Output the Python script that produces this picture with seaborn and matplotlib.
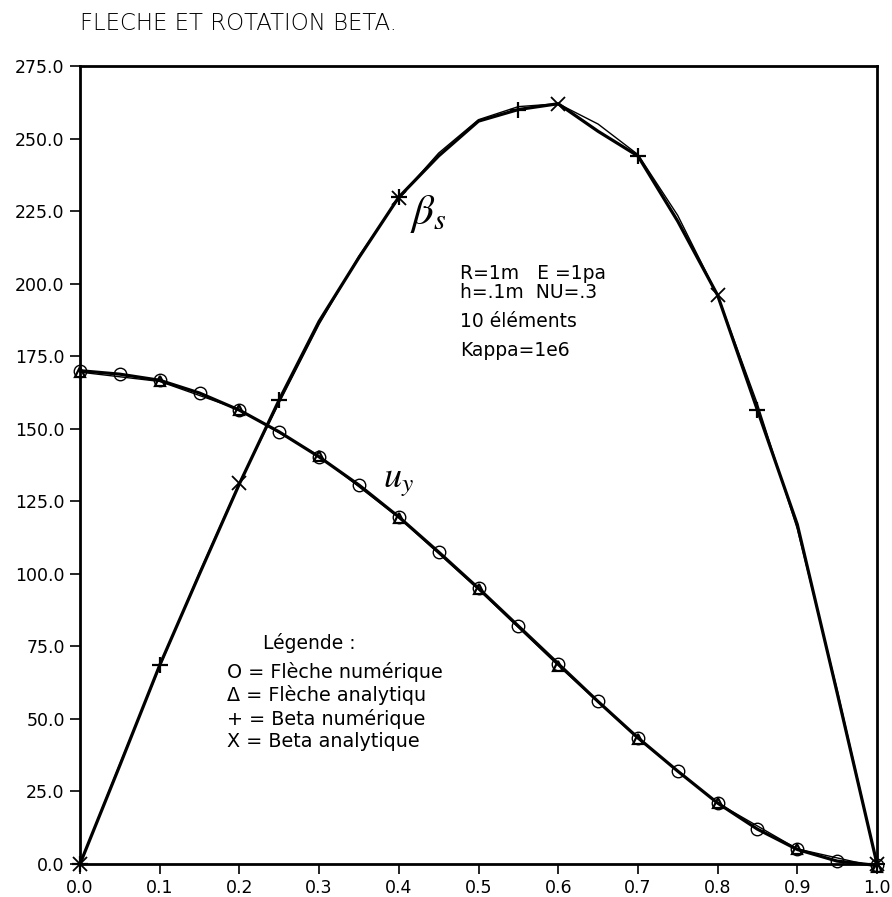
import numpy as np
import pandas as pd
import matplotlib
matplotlib.use("Agg")
import matplotlib.pyplot as plt
import seaborn as sns

# ---------------- data ----------------
x_fine = [0.0, 0.05, 0.1, 0.15, 0.2, 0.25, 0.3, 0.35, 0.4, 0.45, 0.5,
          0.55, 0.6, 0.65, 0.7, 0.75, 0.8, 0.85, 0.9, 0.95, 1.0]
x_coarse = [0.0, 0.1, 0.2, 0.3, 0.4, 0.5, 0.6, 0.7, 0.8, 0.9, 1.0]

fleche_num = [170.0, 168.8, 166.7, 162.3, 156.4, 148.9, 140.3, 130.6, 119.6, 107.5, 95.0,
              82.0, 69.0, 56.0, 43.5, 32.0, 21.0, 12.0, 5.0, 1.0, -0.5]
fleche_ana = [169.5, 166.3, 156.6, 140.6, 119.4, 94.6, 68.4, 43.2, 21.0, 5.2, -1.0]

beta_num = [0.0, 34.0, 68.5, 100.0, 131.0, 160.0, 187.0, 209.0, 229.8, 244.0, 256.0,
            260.0, 262.0, 252.5, 244.0, 221.5, 196.0, 156.4, 117.0, 59.0, 0.0]
beta_ana = [0.0, 34.5, 68.0, 100.5, 131.3, 159.0, 186.0, 209.5, 229.5, 245.0, 256.5,
            261.0, 262.0, 255.0, 244.5, 223.5, 196.0, 158.5, 115.5, 60.0, 0.0]

xticks = [0.0, 0.1, 0.2, 0.3, 0.4, 0.5, 0.6, 0.7, 0.8, 0.9, 1.0]
yticks = [0, 25, 50, 75, 100, 125, 150, 175, 200, 225, 250, 275]

title = "FLECHE ET ROTATION BETA."
info_lines = ["R=1m   E =1pa", "h=.1m  NU=.3"]
elements_txt = "10 éléments"
kappa_txt = "Kappa=1e6"
legend_title = "Légende :"
legend_lines = ["O = Flèche numérique", "Δ = Flèche analytiqu",
                "+ = Beta numérique", "X = Beta analytique"]

# ---------------- style ----------------
sns.set_style("ticks")
plt.rcParams["font.family"] = ["DejaVu Sans"]
plt.rcParams["mathtext.fontset"] = "stix"
plt.rcParams["text.color"] = "black"

fig = plt.figure(figsize=(8.92, 8.97), dpi=100)
ax = fig.add_axes([80 / 892, 1 - 864 / 897, (877 - 80) / 892, (864 - 66) / 897])

df_fn = pd.DataFrame({"x": x_fine, "y": fleche_num})
df_fa = pd.DataFrame({"x": x_coarse, "y": fleche_ana})
df_bn = pd.DataFrame({"x": x_fine, "y": beta_num})
df_ba = pd.DataFrame({"x": x_fine, "y": beta_ana})

# Flèche analytique (thin, triangles)
sns.lineplot(data=df_fa, x="x", y="y", ax=ax, color="black", lw=1.0,
             marker="^", ms=7, mfc="none", mec="black", mew=1.6,
             estimator=None, sort=False)
# Flèche numérique (thick, circles)
sns.lineplot(data=df_fn, x="x", y="y", ax=ax, color="black", lw=2.3,
             marker="o", ms=9, mfc="none", mec="black", mew=1.0,
             estimator=None, sort=False)
# Beta analytique (thin, x markers)
sns.lineplot(data=df_ba, x="x", y="y", ax=ax, color="black", lw=1.0,
             marker="x", ms=10, mec="black", mew=1.3, markevery=[0, 4, 8, 12, 16, 20],
             estimator=None, sort=False)
# Beta numérique (thick, + markers)
sns.lineplot(data=df_bn, x="x", y="y", ax=ax, color="black", lw=2.3,
             marker="+", ms=12, mec="black", mew=1.6, markevery=[0, 2, 5, 8, 11, 14, 17, 20],
             estimator=None, sort=False)

ax.set_xlim(0, 1.0)
ax.set_ylim(0, 275)
ax.set_xticks(xticks)
ax.set_xticklabels([f"{v:.1f}" for v in xticks])
ax.set_yticks(yticks)
ax.set_yticklabels([f"{v:.1f}" for v in yticks])
ax.set_xlabel("")
ax.set_ylabel("")
ax.tick_params(axis="both", direction="out", length=7, width=1.2,
               labelsize=12.5, colors="black", pad=4)
for s in ax.spines.values():
    s.set_visible(True)
    s.set_color("black")
    s.set_linewidth(2.0)
for ln in ax.lines:
    ln.set_clip_on(False)

# ---------------- texts ----------------
fig.text(80 / 892, 1 - 23 / 897, title, ha="left", va="center",
         fontsize=16.5, fontweight="light", color="black")

ax.text(0.437, 224, r"$\beta_s$", fontsize=31, ha="center", va="center")
ax.text(0.40, 131.5, r"$u_y$", fontsize=26, ha="center", va="center")

ax.text(0.477, 203.6, info_lines[0], fontsize=13.5, ha="left", va="center")
ax.text(0.477, 197.0, info_lines[1], fontsize=13.5, ha="left", va="center")
ax.text(0.477, 186.8, elements_txt, fontsize=13.5, ha="left", va="center")
ax.text(0.477, 177.0, kappa_txt, fontsize=13.5, ha="left", va="center")

ax.text(0.229, 76.2, legend_title, fontsize=13.5, ha="left", va="center")
for i, t in enumerate(legend_lines):
    ax.text(0.185, 66.2 - i * 8.05, t, fontsize=13.8, ha="left", va="center")

fig.savefig("out.png", dpi=100)
